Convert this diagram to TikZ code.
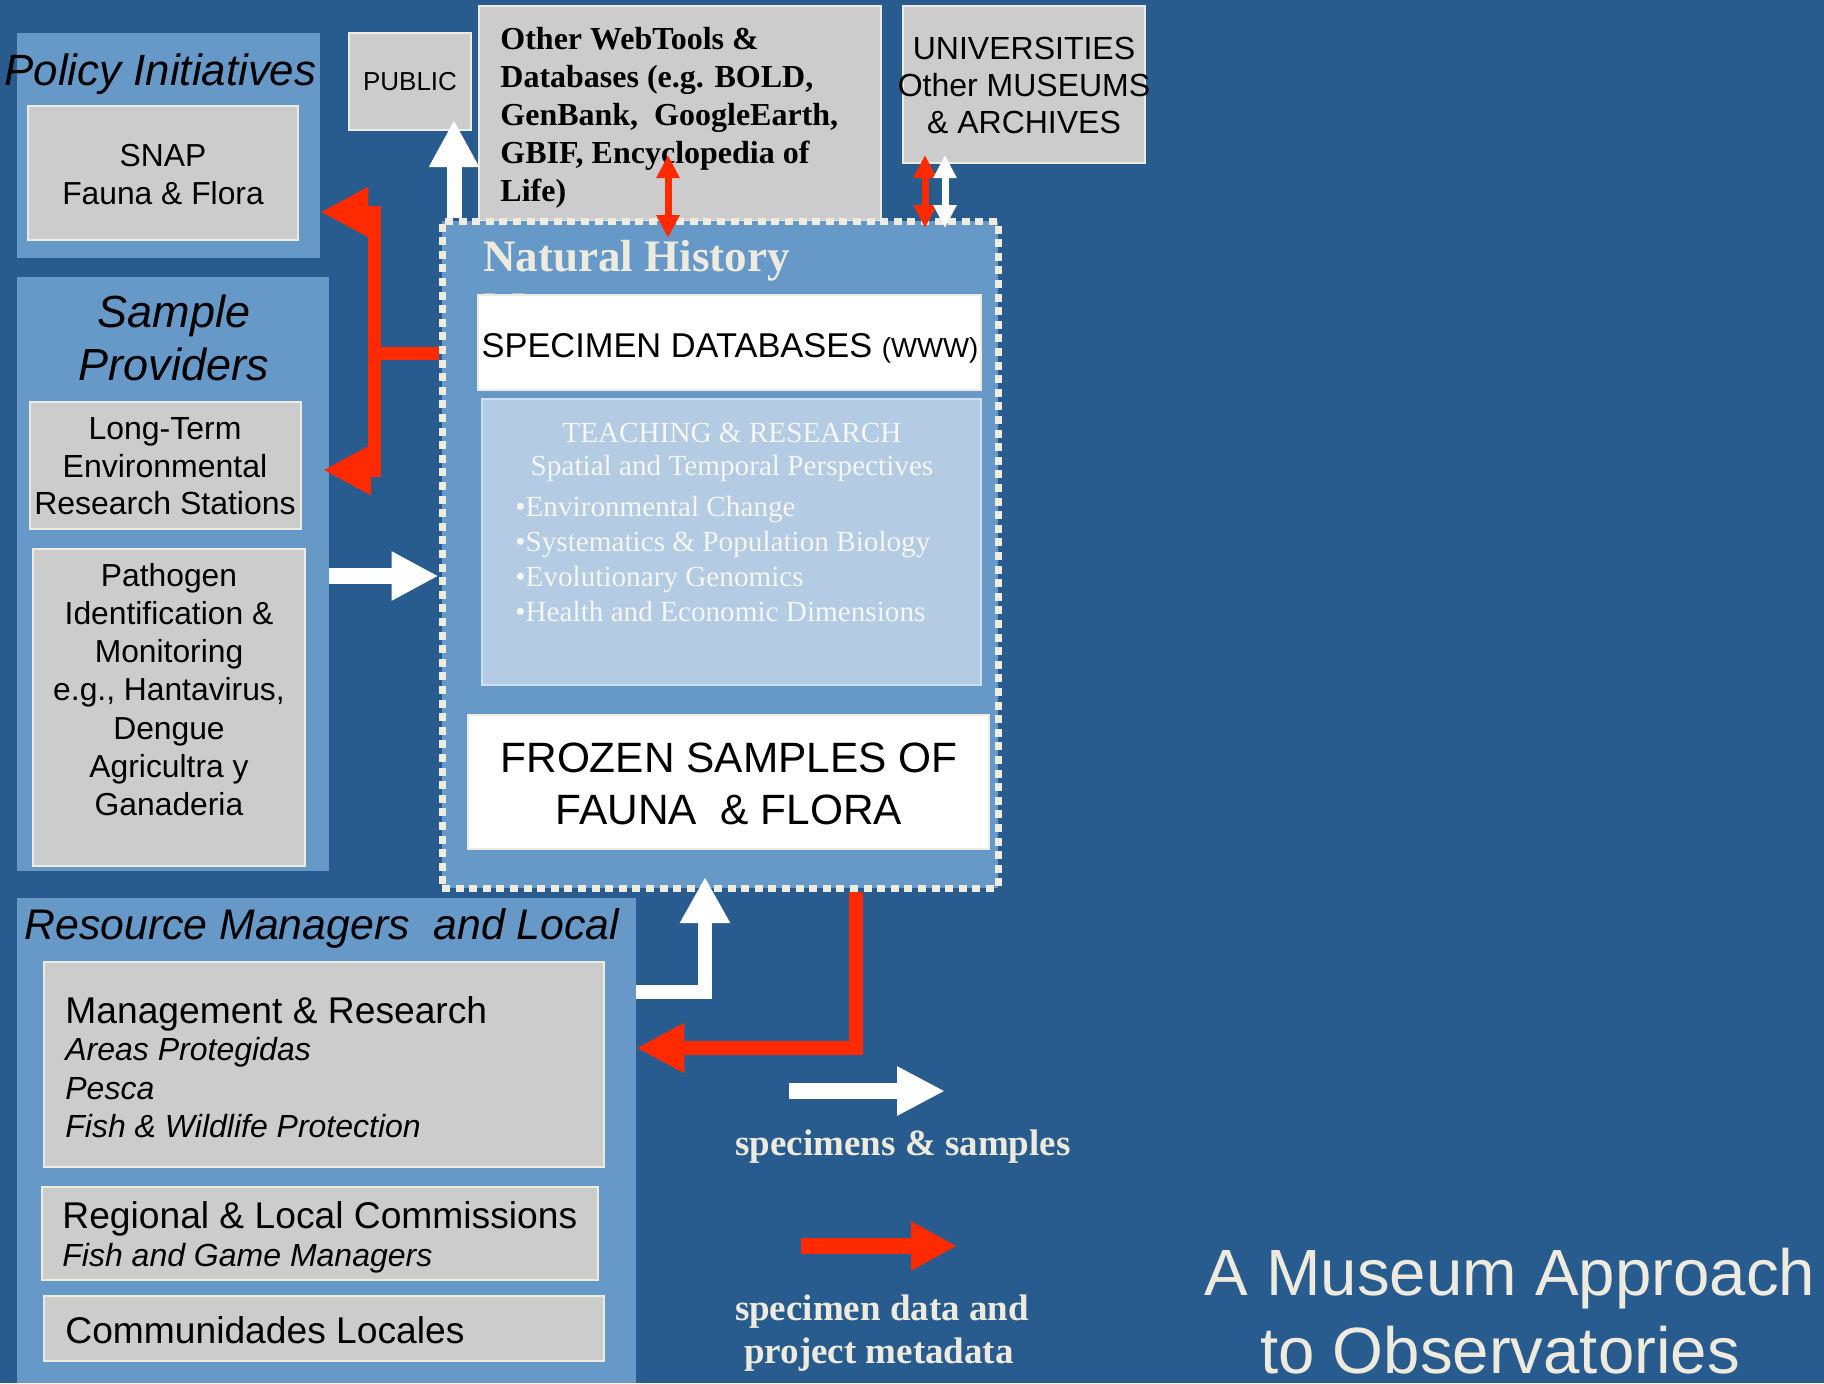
\documentclass[tikz,border=0pt]{standalone}
\usepackage{fontspec}
\setmainfont{Liberation Serif}
\setsansfont{Liberation Sans}
\usetikzlibrary{arrows.meta,fit}
\definecolor{bgblue}{RGB}{40,92,142}
\definecolor{panelblue}{RGB}{102,153,199}
\definecolor{greyfill}{RGB}{204,204,204}
\definecolor{edgecream}{RGB}{238,236,225}
\definecolor{teachfill}{RGB}{179,203,227}
\definecolor{teachedge}{RGB}{208,223,238}
\definecolor{teachtext}{RGB}{246,246,242}
\definecolor{redc}{RGB}{255,42,0}
\definecolor{creamtext}{RGB}{238,235,222}
\newcommand\myfs[2]{\fontsize{#1}{#2}\selectfont}
\begin{document}
\begin{tikzpicture}[x=0.5pt,y=-0.5pt,
  panelbox/.style={fill=panelblue,draw=none,inner sep=0pt},
  greybox/.style={fill=greyfill,draw=edgecream,line width=1pt,inner sep=0pt},
  whitebox/.style={fill=white,draw=edgecream,line width=0.8pt,inner sep=0pt},
  teachbox/.style={fill=teachfill,draw=teachedge,line width=0.8pt,inner sep=0pt},
  dotbox/.style={fill=panelblue,draw=edgecream,line width=3.5pt,dash pattern=on 4pt off 2.8pt,inner sep=0pt},
  sanstxt/.style={inner sep=0pt,text=black},
  serifcream/.style={inner sep=0pt,text=creamtext},
  redbar/.style={draw=redc,line width=6.5pt},
  redarrow/.style={draw=redc,line width=6.5pt,-{Triangle[length=24pt,width=23.5pt]}},
  redelbow/.style={draw=redc,line width=7pt,-{Triangle[length=24pt,width=23.5pt]}},
  whitearrow/.style={draw=white,line width=8pt,-{Triangle[length=23.5pt,width=23pt]}},
  pubarrow/.style={draw=white,line width=7.5pt,-{Triangle[length=23.5pt,width=23.5pt]}},
  whiteelbow/.style={draw=white,line width=7pt,-{Triangle[length=23pt,width=23.5pt]}},
  reddbl/.style={draw=redc,line width=3.5pt,{Triangle[length=11.5pt,width=11pt]}-{Triangle[length=11.5pt,width=11pt]}},
  whitedbl/.style={draw=white,line width=3.5pt,{Triangle[length=11.5pt,width=11pt]}-{Triangle[length=11.5pt,width=11pt]}},
  legwhite/.style={draw=white,line width=8pt,-{Triangle[length=24pt,width=23pt]}},
  legred/.style={draw=redc,line width=8pt,-{Triangle[length=23pt,width=23pt]}}
]
\path[use as bounding box] (0,0) rectangle (1824,1383);
\fill[bgblue] (0,0) rectangle (1824,1383);

% Policy Initiatives
\node[panelbox,fit={(17,33)(320,258)}] (policy) {};
\node[sanstxt,anchor=base,font=\sffamily\itshape\myfs{21.9}{26}] (policyt) at (160.5,85) {Policy Initiatives};
\node[greybox,fit={(28,106)(298,240)}] (snap) {};
\node[sanstxt,align=center,font=\sffamily\myfs{15.9}{19}] (snapt) at (163,175) {SNAP\\Fauna \& Flora};

% Public
\node[greybox,fit={(349,33)(471,130)}] (public) {};
\node[sanstxt,font=\sffamily\myfs{13}{15}] (publict) at (public.center) {PUBLIC};

% Other web tools
\node[greybox,fit={(479,6)(881,221)}] (webtools) {};
\node[sanstxt,anchor=north west,align=left,font=\bfseries\myfs{16}{19}] (webtoolst) at (500,27) {Other WebTools \&\\Databases (e.g. BOLD,\\GenBank,\ \ GoogleEarth,\\GBIF, Encyclopedia of\\Life)};

% Universities
\node[greybox,fit={(903,6)(1145,163)}] (univ) {};
\node[sanstxt,align=center,font=\sffamily\myfs{16}{18.5}] (univt) at (1024,85) {UNIVERSITIES\\Other MUSEUMS\\\& ARCHIVES};

% Natural History Museum
\node[dotbox,fit={(442,221)(998,888)}] (nh) {};
\node[serifcream,anchor=base west,font=\bfseries\myfs{22.5}{27}] (nht) at (483,271) {Natural History};
\node[serifcream,anchor=base west,font=\bfseries\myfs{22.5}{27}] (nht2) at (483,323) {Museum};

\node[whitebox,fit={(478,295)(981,390)}] (specdb) {};
\node[sanstxt,anchor=base,font=\sffamily\myfs{17.2}{20}] (specdbt) at (730,357) {SPECIMEN DATABASES {\myfs{13.8}{16}(WWW)}};

\node[teachbox,fit={(482,399)(981,685)}] (teach) {};
\node[inner sep=0pt,anchor=base,text=teachtext,font=\myfs{14.6}{17}] (teacht1) at (732,442.5) {TEACHING \& RESEARCH};
\node[inner sep=0pt,anchor=base,text=teachtext,font=\myfs{14.6}{17}] (teacht2) at (732,475) {Spatial and Temporal Perspectives};
\node[inner sep=0pt,anchor=north west,align=left,text=teachtext,font=\myfs{14.6}{17.5}] (teachlist) at (515,496) {\textbullet Environmental Change\\\textbullet Systematics \& Population Biology\\\textbullet Evolutionary Genomics\\\textbullet Health and Economic Dimensions};

\node[whitebox,fit={(468,715)(989,849)}] (frozen) {};
\node[sanstxt,align=center,font=\sffamily\myfs{21.2}{26}] (frozent) at (729,784) {FROZEN SAMPLES OF\\FAUNA\ \ \& FLORA};

% Sample providers
\node[panelbox,fit={(17,277)(329,871)}] (sample) {};
\node[sanstxt,align=center,font=\sffamily\itshape\myfs{22.5}{26.5}] (samplet) at (174,337.5) {Sample\\Providers};
\node[greybox,fit={(30,402)(301,529)}] (lter) {};
\node[sanstxt,align=center,font=\sffamily\myfs{16}{18.75}] (ltert) at (165,466.5) {Long-Term\\Environmental\\Research Stations};
\node[greybox,fit={(33,549)(305,866)}] (patho) {};
\node[sanstxt,align=center,font=\sffamily\myfs{15.9}{19.1}] (pathot) at (169,689.5) {Pathogen\\Identification \&\\Monitoring\\e.g., Hantavirus,\\Dengue\\Agricultra y\\Ganaderia};

% Resource managers
\node[panelbox,fit={(17,898)(636,1383)}] (res) {};
\node[sanstxt,anchor=base west,font=\sffamily\itshape\myfs{21.4}{25}] (rest) at (24,939) {Resource Managers\ \ and Local};
\node[greybox,fit={(44,962)(604,1167)}] (mgmt) {};
\node[sanstxt,anchor=base west,font=\sffamily\myfs{18.6}{22}] (mgmt1) at (65,1023) {Management \& Research};
\node[sanstxt,anchor=base west,font=\sffamily\itshape\myfs{16}{19}] (mgmt2) at (65,1060) {Areas Protegidas};
\node[sanstxt,anchor=base west,font=\sffamily\itshape\myfs{16}{19}] (mgmt3) at (65,1099) {Pesca};
\node[sanstxt,anchor=base west,font=\sffamily\itshape\myfs{16}{19}] (mgmt4) at (65,1137) {Fish \& Wildlife Protection};
\node[greybox,fit={(42,1187)(598,1280)}] (regional) {};
\node[sanstxt,anchor=base west,font=\sffamily\myfs{18.6}{22}] (reg1) at (62,1228) {Regional \& Local Commissions};
\node[sanstxt,anchor=base west,font=\sffamily\itshape\myfs{16}{19}] (reg2) at (62,1266) {Fish and Game Managers};
\node[greybox,fit={(44,1296)(604,1361)}] (comm) {};
\node[sanstxt,anchor=base west,font=\sffamily\myfs{18.6}{22}] (comm1) at (65,1343) {Communidades Locales};

% Legend
\coordinate (lwa) at (789,1091);
\coordinate (lwb) at (945,1091);
\draw[legwhite] (lwa) -- (lwb);
\node[serifcream,anchor=base,font=\bfseries\myfs{18.5}{22}] (leg1) at (903,1155) {specimens \& samples};
\coordinate (lra) at (801,1246);
\coordinate (lrb) at (957,1246);
\draw[legred] (lra) -- (lrb);
\node[serifcream,anchor=base,font=\bfseries\myfs{18.5}{22}] (leg2a) at (882,1320) {specimen data and};
\node[serifcream,anchor=base,font=\bfseries\myfs{18.5}{22}] (leg2b) at (879,1363) {project metadata};

% Title
\node[inner sep=0pt,anchor=base,text=creamtext,font=\sffamily\myfs{32.7}{40}] (title1) at (1510,1295) {A Museum Approach};
\node[inner sep=0pt,anchor=base,text=creamtext,font=\sffamily\myfs{32.7}{40}] (title2) at (1500,1373) {to Observatories};

% Connectors
\coordinate (rj) at (374,353);
\draw[redbar] (nh.west |- rj) -- (rj);
\draw[redarrow] (rj) |- (policy.east |- 0,212);
\coordinate (lttip) at (323,470);
\draw[redarrow] (rj) |- (lttip);

\draw[whitearrow] (sample.east |- 0,576) -- (nh.west |- 0,576);

\coordinate (pubtip) at (454,120);
\draw[pubarrow] (nh.north -| pubtip) -- (pubtip);

\coordinate (wtA) at (668,155);
\coordinate (wtB) at (668,238);
\draw[reddbl] (wtA) -- (wtB);
\coordinate (unA) at (925,155);
\coordinate (unB) at (925,228);
\draw[reddbl] (unA) -- (unB);
\coordinate (unC) at (945,155);
\coordinate (unD) at (945,228);
\draw[whitedbl] (unC) -- (unD);

\coordinate (mgtip) at (705,877);
\draw[whiteelbow] (res.east |- 0,992) -| (mgtip);
\draw[redelbow] (nh.south -| 856,0) |- (res.east |- 0,1048);
\end{tikzpicture}
\end{document}
